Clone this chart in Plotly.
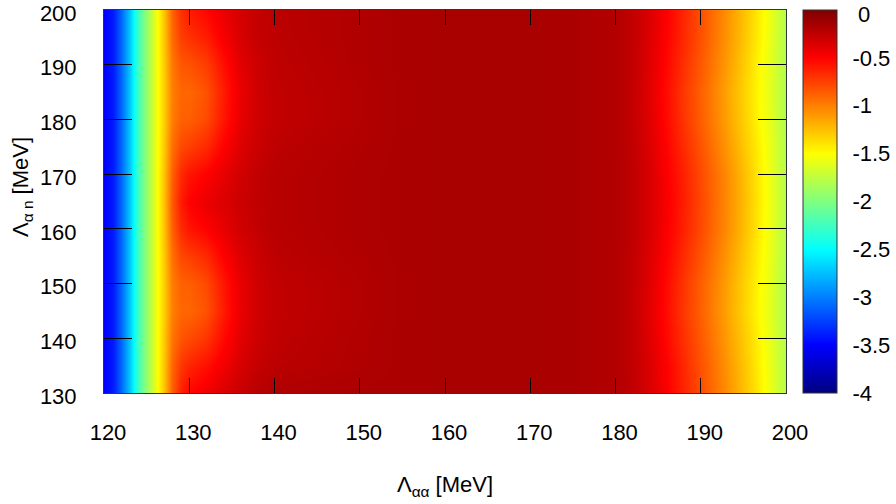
import plotly.graph_objects as go

# x grid (Lambda_alpha_alpha, MeV)
x_vals = [120, 121, 122, 123, 124, 125, 126, 127, 128, 129, 130, 132, 134, 136, 138, 140,
          145, 150, 155, 160, 165, 170, 175, 180, 182, 184, 186, 188, 190, 192, 194, 196, 198, 200]
# y grid (Lambda_alpha_n, MeV)
y_vals = [130, 135, 140, 145, 150, 155, 160, 165, 170, 175, 180, 185, 190, 195, 200]

z_y130 = [-3.5,-3.4,-3.1,-2.7,-2.25,-1.9,-1.6,-1.26,-0.87,-0.62,-0.52,-0.44,-0.36,-0.28,-0.22,-0.19,-0.18,-0.17,-0.17,-0.16,-0.16,-0.16,-0.17,-0.2,-0.25,-0.36,-0.49,-0.64,-0.8,-0.97,-1.15,-1.34,-1.56,-1.8]
z_y135 = [-3.5,-3.4,-3.1,-2.7,-2.25,-1.9,-1.6,-1.27,-0.9,-0.71,-0.64,-0.56,-0.45,-0.34,-0.27,-0.23,-0.21,-0.19,-0.17,-0.16,-0.16,-0.16,-0.17,-0.2,-0.26,-0.36,-0.5,-0.66,-0.82,-0.99,-1.17,-1.36,-1.57,-1.81]
z_y140 = [-3.5,-3.4,-3.1,-2.7,-2.25,-1.9,-1.6,-1.28,-0.96,-0.83,-0.79,-0.71,-0.54,-0.39,-0.3,-0.25,-0.22,-0.19,-0.17,-0.16,-0.16,-0.16,-0.17,-0.2,-0.26,-0.38,-0.53,-0.69,-0.85,-1.02,-1.2,-1.38,-1.58,-1.81]
z_y145 = [-3.5,-3.4,-3.1,-2.7,-2.25,-1.9,-1.6,-1.3,-1.0,-0.9,-0.9,-0.82,-0.61,-0.42,-0.31,-0.26,-0.23,-0.2,-0.17,-0.16,-0.16,-0.16,-0.17,-0.2,-0.27,-0.39,-0.55,-0.72,-0.88,-1.05,-1.23,-1.41,-1.6,-1.82]
z_y150 = [-3.5,-3.4,-3.1,-2.7,-2.25,-1.9,-1.6,-1.3,-0.99,-0.88,-0.87,-0.79,-0.59,-0.41,-0.31,-0.26,-0.23,-0.2,-0.17,-0.16,-0.16,-0.16,-0.17,-0.2,-0.27,-0.38,-0.54,-0.71,-0.87,-1.04,-1.22,-1.4,-1.59,-1.82]
z_y155 = [-3.5,-3.4,-3.1,-2.7,-2.25,-1.9,-1.6,-1.28,-0.94,-0.78,-0.74,-0.66,-0.5,-0.37,-0.29,-0.24,-0.21,-0.19,-0.17,-0.16,-0.16,-0.16,-0.17,-0.2,-0.26,-0.37,-0.51,-0.67,-0.83,-1.0,-1.18,-1.37,-1.57,-1.81]
z_y160 = [-3.5,-3.4,-3.1,-2.7,-2.25,-1.9,-1.6,-1.26,-0.88,-0.66,-0.58,-0.5,-0.41,-0.32,-0.26,-0.22,-0.2,-0.18,-0.17,-0.16,-0.16,-0.16,-0.17,-0.2,-0.25,-0.35,-0.49,-0.63,-0.79,-0.96,-1.14,-1.34,-1.56,-1.8]
z_y165 = [-3.5,-3.4,-3.1,-2.7,-2.25,-1.9,-1.6,-1.25,-0.85,-0.6,-0.5,-0.42,-0.36,-0.3,-0.25,-0.22,-0.2,-0.18,-0.17,-0.16,-0.16,-0.16,-0.17,-0.2,-0.25,-0.35,-0.48,-0.62,-0.78,-0.95,-1.13,-1.33,-1.55,-1.8]
z_y170 = [-3.5,-3.4,-3.1,-2.7,-2.25,-1.9,-1.6,-1.26,-0.88,-0.66,-0.58,-0.5,-0.41,-0.32,-0.26,-0.22,-0.2,-0.18,-0.17,-0.16,-0.16,-0.16,-0.17,-0.2,-0.25,-0.35,-0.49,-0.63,-0.79,-0.96,-1.14,-1.34,-1.56,-1.8]
z_y175 = [-3.5,-3.4,-3.1,-2.7,-2.25,-1.9,-1.6,-1.28,-0.94,-0.78,-0.74,-0.66,-0.5,-0.37,-0.29,-0.24,-0.21,-0.19,-0.17,-0.16,-0.16,-0.16,-0.17,-0.2,-0.26,-0.37,-0.51,-0.67,-0.83,-1.0,-1.18,-1.37,-1.57,-1.81]
z_y180 = [-3.5,-3.4,-3.1,-2.7,-2.25,-1.9,-1.6,-1.3,-0.99,-0.88,-0.87,-0.79,-0.59,-0.41,-0.31,-0.26,-0.23,-0.2,-0.17,-0.16,-0.16,-0.16,-0.17,-0.2,-0.27,-0.38,-0.54,-0.71,-0.87,-1.04,-1.22,-1.4,-1.59,-1.82]
z_y185 = [-3.5,-3.4,-3.1,-2.7,-2.25,-1.9,-1.6,-1.3,-1.0,-0.9,-0.9,-0.82,-0.61,-0.42,-0.31,-0.26,-0.23,-0.2,-0.17,-0.16,-0.16,-0.16,-0.17,-0.2,-0.27,-0.39,-0.55,-0.72,-0.88,-1.05,-1.23,-1.41,-1.6,-1.82]
z_y190 = [-3.5,-3.4,-3.1,-2.7,-2.25,-1.9,-1.6,-1.29,-0.97,-0.84,-0.82,-0.74,-0.56,-0.39,-0.3,-0.25,-0.22,-0.19,-0.17,-0.16,-0.16,-0.16,-0.17,-0.2,-0.26,-0.38,-0.53,-0.69,-0.85,-1.02,-1.2,-1.39,-1.59,-1.81]
z_y195 = [-3.5,-3.4,-3.1,-2.7,-2.25,-1.9,-1.6,-1.27,-0.92,-0.74,-0.69,-0.61,-0.47,-0.35,-0.27,-0.24,-0.21,-0.19,-0.17,-0.16,-0.16,-0.16,-0.17,-0.2,-0.26,-0.37,-0.51,-0.66,-0.82,-0.99,-1.17,-1.36,-1.57,-1.81]
z_y200 = [-3.5,-3.4,-3.1,-2.7,-2.25,-1.9,-1.6,-1.26,-0.89,-0.68,-0.6,-0.52,-0.42,-0.33,-0.27,-0.23,-0.21,-0.19,-0.17,-0.16,-0.16,-0.16,-0.17,-0.2,-0.26,-0.36,-0.5,-0.65,-0.81,-0.98,-1.16,-1.35,-1.56,-1.81]

z_rows = [z_y130, z_y135, z_y140, z_y145, z_y150, z_y155, z_y160, z_y165,
          z_y170, z_y175, z_y180, z_y185, z_y190, z_y195, z_y200]

x_ticks = [120, 130, 140, 150, 160, 170, 180, 190, 200]
y_ticks = [130, 140, 150, 160, 170, 180, 190, 200]
cb_ticks = [-0.5, -1, -1.5, -2, -2.5, -3, -3.5, -4]
cb_labels = ["-0.5", "-1", "-1.5", "-2", "-2.5", "-3", "-3.5", "-4"]
cb_top_label = "0"
z_min, z_max = -4, 0

jet = [[0.0, "rgb(0,0,128)"], [0.125, "rgb(0,0,255)"], [0.375, "rgb(0,255,255)"],
       [0.625, "rgb(255,255,0)"], [0.875, "rgb(255,0,0)"], [1.0, "rgb(128,0,0)"]]

FONT = "Liberation Sans, Arial, sans-serif"
FS = 22

W, H = 896, 504
ML, MR, MT, MB = 104, 110, 10, 111
PW = W - ML - MR
PH = H - MT - MB
CB_GAP, CB_THICK, CB_TICK = 17, 34, 12

fig = go.Figure(go.Heatmap(
    x=x_vals, y=y_vals, z=z_rows,
    zmin=z_min, zmax=z_max, zsmooth="best",
    colorscale=jet,
    colorbar=dict(
        x=1 + CB_GAP / PW, xanchor="left", xpad=0, ypad=0,
        y=0.5, yanchor="middle", len=1, lenmode="fraction",
        thickness=CB_THICK, thicknessmode="pixels",
        outlinecolor="#333333", outlinewidth=1,
        tickmode="array", tickvals=cb_ticks, ticktext=cb_labels,
        ticks="outside", ticklen=11, tickcolor="rgba(0,0,0,0)",
        ticklabeloverflow="allow",
        tickfont=dict(family=FONT, size=FS, color="black"),
    ),
))

# colorbar tick marks drawn on both inner edges (gnuplot style)
shapes = []
for v in cb_ticks[:-1]:
    yf = (v - z_min) / (z_max - z_min)
    x_left = 1 + CB_GAP / PW
    x_right = 1 + (CB_GAP + CB_THICK) / PW
    shapes.append(dict(type="line", xref="paper", yref="paper",
                       x0=x_left, x1=x_left + CB_TICK / PW, y0=yf, y1=yf,
                       line=dict(color="#222222", width=1)))
    shapes.append(dict(type="line", xref="paper", yref="paper",
                       x0=x_right - CB_TICK / PW, x1=x_right, y0=yf, y1=yf,
                       line=dict(color="#222222", width=1)))

fig.update_layout(
    width=W, height=H,
    margin=dict(l=ML, r=MR, t=MT, b=MB, autoexpand=False),
    paper_bgcolor="white", plot_bgcolor="white",
    font=dict(family=FONT, size=FS, color="black"),
    shapes=shapes,
    annotations=[
        dict(
            text="Λ<sub>α n</sub> [MeV]", textangle=-90,
            xref="paper", yref="paper",
            x=(22 - ML) / PW, y=(PH + MT - 187) / PH,
            xanchor="center", yanchor="middle", showarrow=False,
            font=dict(family=FONT, size=FS, color="black"),
        ),
        dict(
            text=cb_top_label,
            xref="paper", yref="paper",
            x=1 + (857 - ML - PW) / PW, y=(PH + MT - 14) / PH,
            xanchor="left", yanchor="middle", showarrow=False,
            borderpad=0, font=dict(family=FONT, size=FS, color="black"),
        ),
    ],
    xaxis=dict(
        range=[120, 200], tickmode="array", tickvals=x_ticks,
        ticks="inside", ticklen=15, tickcolor="black", tickwidth=1,
        showline=True, linecolor="#333333", linewidth=1, mirror="ticks",
        showgrid=False, zeroline=False, ticklabelstandoff=20,
        ticklabelshift=4, ticklabeloverflow="allow",
        tickfont=dict(family=FONT, size=FS),
        title=dict(text="Λ<sub>αα</sub> [MeV]", standoff=32,
                   font=dict(family=FONT, size=FS)),
    ),
    yaxis=dict(
        range=[130, 200], tickmode="array", tickvals=y_ticks,
        ticks="inside", ticklen=28, tickcolor="black", tickwidth=1,
        showline=True, linecolor="#333333", linewidth=1, mirror="ticks",
        showgrid=False, zeroline=False, ticklabelstandoff=22,
        ticklabelshift=3, ticklabeloverflow="allow",
        tickfont=dict(family=FONT, size=FS),
    ),
)

fig.write_html("out.html")
